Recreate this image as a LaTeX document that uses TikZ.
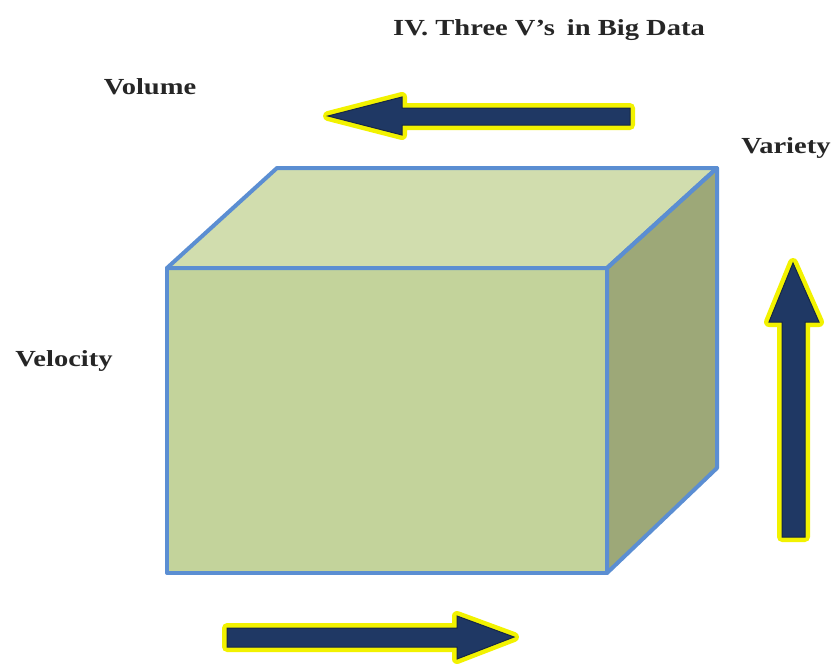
\documentclass[tikz,border=0pt]{standalone}
\usepackage{fontspec}
\setmainfont{Liberation Serif}
\definecolor{frontc}{HTML}{C3D39B}
\definecolor{topc}{HTML}{D1DDAE}
\definecolor{sidec}{HTML}{9DA878}
\definecolor{edgec}{HTML}{5B8ED2}
\definecolor{navy}{HTML}{1F3864}
\definecolor{glow}{HTML}{F2F200}
\tikzset{
  lbl/.style={font=\fontsize{23}{27}\selectfont\bfseries, text=black!85, xscale=1.24, inner sep=0pt},
  face/.style={draw=edgec, line width=4pt, line join=round},
  glowline/.style={draw=glow, line width=10pt, line join=round},
  arrowbody/.style={fill=navy, draw=navy!70!black, line width=1pt, line join=miter}
}
\begin{document}
\begin{tikzpicture}[x=1pt,y=-1pt]
\useasboundingbox[fill=white] (0,0) rectangle (834,664);
% title and labels
\node[lbl] (title) at (549,30) {IV. Three V’s\, in Big Data};
\node[lbl] (vol) at (150,87) {Volume};
\node[lbl, anchor=west] (var) at (741,148) {Variety};
\node[lbl] (vel) at (64,361) {Velocity};
% cube
\coordinate (A) at (167,268);
\coordinate (B) at (607,268);
\coordinate (C) at (607,573);
\coordinate (D) at (167,573);
\coordinate (E) at (277,168);
\coordinate (F) at (717,168);
\coordinate (G) at (717,468);
\fill[topc] (A) -- (E) -- (F) -- (B) -- cycle;
\fill[sidec] (B) -- (F) -- (G) -- (C) -- cycle;
\fill[frontc] (A) -- (B) -- (C) -- (D) -- cycle;
\draw[face] (A) -- (E) -- (F) -- (B) -- cycle;
\draw[face] (B) -- (F) -- (G) -- (C) -- cycle;
\draw[face] (A) -- (B) -- (C) -- (D) -- cycle;
% Volume arrow (left)
\def\volarrow{(630,108) -- (402,108) -- (402,97) -- (328,116) -- (402,135) -- (402,125) -- (630,125) -- cycle}
\path[glowline] \volarrow;
\path[arrowbody] \volarrow;
% Variety arrow (up)
\def\vararrow{(782,537) -- (782,322) -- (769,322) -- (793,263) -- (819,322) -- (805,322) -- (805,537) -- cycle}
\path[glowline] \vararrow;
\path[arrowbody] \vararrow;
% Velocity arrow (right)
\def\velarrow{(227,628) -- (457,628) -- (457,616) -- (514,637) -- (457,659) -- (457,647) -- (227,647) -- cycle}
\path[glowline] \velarrow;
\path[arrowbody] \velarrow;
\end{tikzpicture}
\end{document}
